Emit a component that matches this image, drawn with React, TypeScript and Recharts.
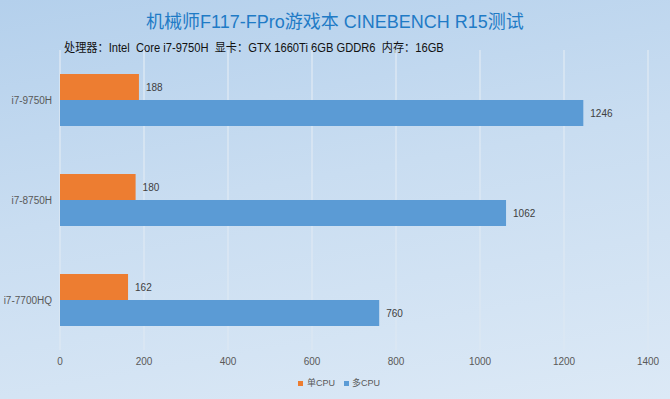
import { BarChart, Bar, XAxis, YAxis, CartesianGrid, LabelList } from "recharts";

const cpus = ["i7-9750H", "i7-8750H", "i7-7700HQ"];
const singleCpu = [188, 180, 162];
const multiCpu = [1246, 1062, 760];
const xTicks = [0, 200, 400, 600, 800, 1000, 1200, 1400];

const ORANGE = "#ed7d31";
const BLUE = "#5b9bd5";
const FONT = '"Liberation Sans", "Noto Sans CJK SC", sans-serif';

const data = cpus.map((name, i) => ({ name, single: singleCpu[i], multi: multiCpu[i] }));

export default function App() {
  return (
    <div
      style={{
        position: "fixed",
        top: 0,
        left: 0,
        width: 670,
        height: 399,
        overflow: "hidden",
        fontFamily: FONT,
        background: "linear-gradient(170deg, #b4d0ec 0%, #c9ddf1 45%, #dce9f6 100%)",
      }}
    >
      <div
        style={{
          position: "absolute",
          top: 12,
          left: 146,
          fontSize: 18,
          lineHeight: "20px",
          color: "#1f7bc6",
          whiteSpace: "nowrap",
        }}
      >
        机械师F117-FPro游戏本 CINEBENCH R15测试
      </div>
      <div
        style={{
          position: "absolute",
          top: 41,
          left: 64,
          fontSize: 12,
          lineHeight: "14px",
          color: "#111",
          whiteSpace: "nowrap",
          transform: "scaleX(0.93)",
          transformOrigin: "left",
        }}
      >
        处理器：Intel&nbsp; Core i7-9750H&nbsp; 显卡：GTX 1660Ti 6GB GDDR6&nbsp; 内存：16GB
      </div>
      <BarChart
        width={670}
        height={399}
        data={data}
        layout="vertical"
        margin={{ top: 50, right: 22, bottom: 19, left: 0 }}
        barCategoryGap="24%"
        barGap={0}
        style={{ fontFamily: FONT }}
      >
        <CartesianGrid horizontal={false} stroke="#dbe7f3" strokeWidth={1.5} />
        <XAxis
          type="number"
          domain={[0, 1400]}
          ticks={xTicks}
          axisLine={false}
          tickLine={false}
          tick={{ fontSize: 10, fill: "#595959" }}
        />
        <YAxis
          type="category"
          dataKey="name"
          width={60}
          axisLine={false}
          tickLine={false}
          tick={{ fontSize: 10, fill: "#595959" }}
        />
        <Bar dataKey="single" fill={ORANGE} isAnimationActive={false}>
          <LabelList dataKey="single" position="right" offset={7} fontSize={10} fill="#404040" />
        </Bar>
        <Bar dataKey="multi" fill={BLUE} isAnimationActive={false}>
          <LabelList dataKey="multi" position="right" offset={7} fontSize={10} fill="#404040" />
        </Bar>
      </BarChart>
      <div
        style={{
          position: "absolute",
          top: 377,
          left: 298,
          display: "flex",
          alignItems: "center",
          fontSize: 9,
          lineHeight: "12px",
          color: "#595959",
        }}
      >
        <span style={{ width: 5, height: 5, background: ORANGE, marginRight: 4 }} />
        <span style={{ marginRight: 9 }}>单CPU</span>
        <span style={{ width: 5, height: 5, background: BLUE, marginRight: 3 }} />
        <span>多CPU</span>
      </div>
    </div>
  );
}
